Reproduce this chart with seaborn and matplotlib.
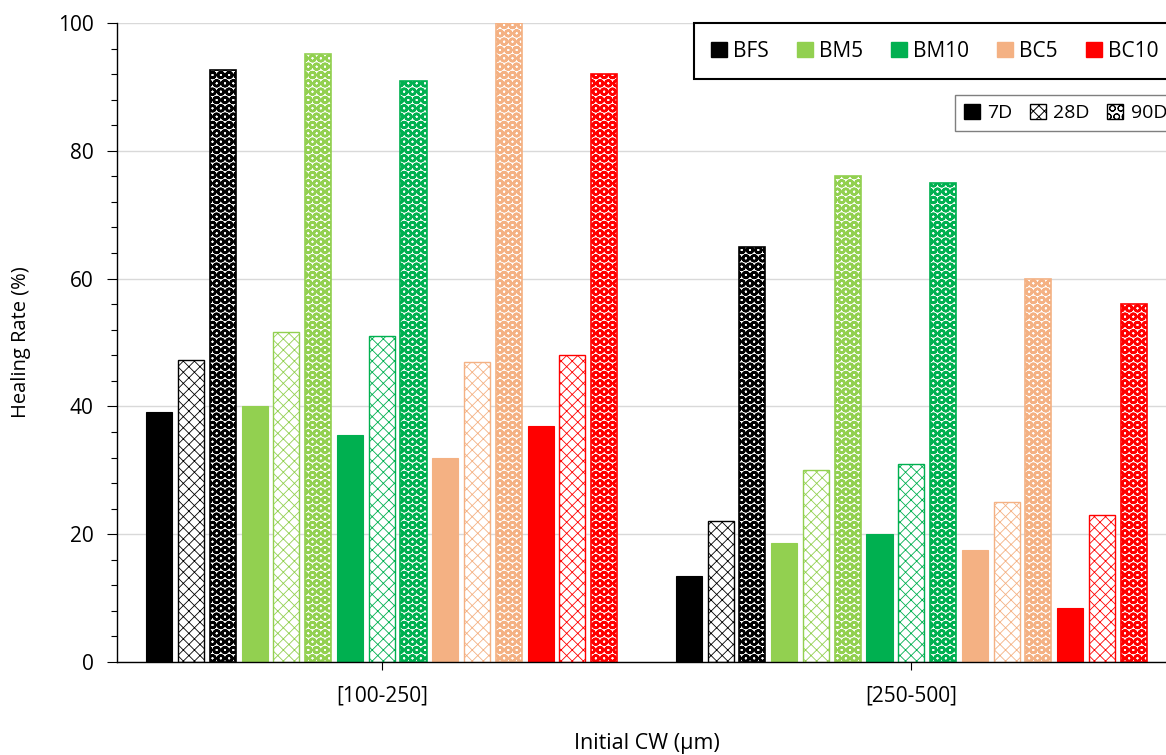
import matplotlib
matplotlib.use("Agg")
import matplotlib.pyplot as plt
import seaborn as sns
import pandas as pd
from matplotlib.patches import Patch
from matplotlib.ticker import MultipleLocator

# --- data ---
GROUPS = ["[100-250]", "[250-500]"]
MIXES = ["BFS", "BM5", "BM10", "BC5", "BC10"]
AGES = ["7D", "28D", "90D"]
COLORS = ["#000000", "#92d050", "#00b050", "#f4b183", "#ff0000"]

# values per mix: [7D, 28D, 90D] for each crack-width group
bfs = [[39.2, 47.3, 92.7], [13.5, 22.0, 65.0]]
bm5 = [[40.0, 51.6, 95.2], [18.6, 30.0, 76.0]]
bm10 = [[35.5, 51.0, 91.0], [20.0, 31.0, 75.0]]
bc5 = [[32.0, 47.0, 100.0], [17.5, 25.0, 60.0]]
bc10 = [[37.0, 48.0, 92.0], [8.5, 23.0, 56.0]]

rows = []
for mix, vals in zip(MIXES, [bfs, bm5, bm10, bc5, bc10]):
    for g, gvals in zip(GROUPS, vals):
        for age, v in zip(AGES, gvals):
            rows.append({"group": g, "series": f"{mix} {age}", "value": v})
df = pd.DataFrame(rows)
hue_order = [f"{m} {a}" for m in MIXES for a in AGES]

sns.set_style("white")
plt.rcParams["font.family"] = ["Open Sans", "DejaVu Sans"]
plt.rcParams["text.color"] = "black"
plt.rcParams["axes.labelcolor"] = "black"
plt.rcParams["xtick.color"] = "black"
plt.rcParams["ytick.color"] = "black"
plt.rcParams["hatch.linewidth"] = 0.7

fig = plt.figure(figsize=(11.66, 7.55), dpi=100)
ax = fig.add_axes([117 / 1166, 93 / 755, 1059 / 1166, 639 / 755])

palette = {f"{m} {a}": c for m, c in zip(MIXES, COLORS) for a in AGES}
sns.barplot(data=df, x="group", y="value", hue="series", hue_order=hue_order,
            order=GROUPS, palette=palette, width=0.9, gap=0.18,
            legend=False, ax=ax, saturation=1)

HATCH_28 = "xxx"
HATCH_90 = "OO"

# style each container: 7D solid, 28D lattice, 90D dots
for i, cont in enumerate(ax.containers):
    color = COLORS[i // 3]
    age = i % 3
    for bar in cont:
        if age == 0:
            bar.set_facecolor(color)
            bar.set_edgecolor(color)
            bar.set_linewidth(0.8)
        elif age == 1:
            bar.set_facecolor("white")
            bar.set_edgecolor(color)
            bar.set_hatch(HATCH_28)
            bar.set_linewidth(1.0)
            if hasattr(bar, "set_hatch_linewidth"):
                bar.set_hatch_linewidth(0.6)
        else:
            bar.set_facecolor("white")
            bar.set_edgecolor(color)
            bar.set_hatch(HATCH_90)
            bar.set_linewidth(1.2)
            if hasattr(bar, "set_hatch_linewidth"):
                bar.set_hatch_linewidth(1.8)

ax.set_ylim(0, 100)
ax.set_xlim(-0.5, 1.5)
ax.yaxis.set_major_locator(MultipleLocator(20))
ax.yaxis.set_minor_locator(MultipleLocator(4))
ax.grid(axis="y", color="#d9d9d9", linewidth=1)
ax.set_axisbelow(True)
for s in ["top", "right"]:
    ax.spines[s].set_visible(False)
for s in ["left", "bottom"]:
    ax.spines[s].set_color("black")
    ax.spines[s].set_linewidth(1)
ax.tick_params(axis="y", which="major", direction="out", length=7, width=0.8,
               left=True, labelsize=15, pad=10)
ax.tick_params(axis="y", which="minor", direction="out", length=4, width=0.8, left=True)
ax.tick_params(axis="x", direction="out", length=6, width=0.8, bottom=True,
               labelsize=15, pad=11)
ax.set_xlabel("Initial CW (µm)", fontsize=15.5, labelpad=19)
ax.set_ylabel("Healing Rate (%)", fontsize=14.5, labelpad=19)

# legends
mix_handles = [Patch(facecolor=c, edgecolor=c, label=m) for m, c in zip(MIXES, COLORS)]
leg1 = ax.legend(handles=mix_handles, loc="upper right", bbox_to_anchor=(1.0, 1.0),
                 ncol=5, fontsize=15, frameon=True, fancybox=False, framealpha=1,
                 edgecolor="black", handlelength=0.75, handleheight=0.75,
                 handletextpad=0.3, columnspacing=1.35, borderpad=0.85,
                 borderaxespad=0)
leg1.get_frame().set_linewidth(1.5)
ax.add_artist(leg1)

age_handles = [
    Patch(facecolor="black", edgecolor="black", label="7D"),
    Patch(facecolor="white", edgecolor="black", hatch=HATCH_28, label="28D"),
    Patch(facecolor="white", edgecolor="black", hatch=HATCH_90, label="90D"),
]
leg2 = ax.legend(handles=age_handles, loc="upper right", bbox_to_anchor=(1.0, 0.887),
                 ncol=3, fontsize=14, frameon=True, fancybox=False, framealpha=1,
                 edgecolor="#7f7f7f", handlelength=0.8, handleheight=0.8,
                 handletextpad=0.4, columnspacing=0.9, borderpad=0.45,
                 borderaxespad=0)
leg2.get_frame().set_linewidth(1.0)

fig.savefig("out.png", dpi=100)
